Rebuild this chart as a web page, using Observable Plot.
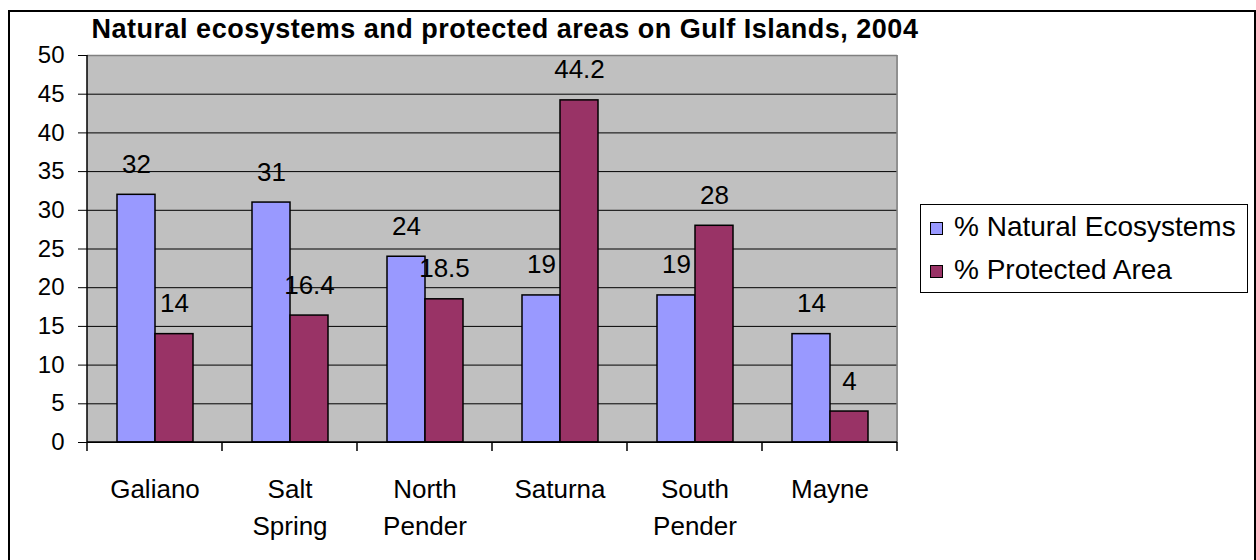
<!DOCTYPE html>
<html>
<head>
<meta charset="utf-8">
<script src="https://cdn.jsdelivr.net/npm/d3@7"></script>
<script src="https://cdn.jsdelivr.net/npm/@observablehq/plot@0.6"></script>
<style>
  body { margin: 0; background: #fff; font-family: "Liberation Sans", Arial, sans-serif; }
  #page { position: relative; width: 1256px; height: 560px; overflow: hidden; }
  #page svg { position: absolute; left: 0; top: 0; }
  #border { position: absolute; left: 8px; top: 10px; width: 1244px; height: 600px; border: 2px solid #000; }
  #title { position: absolute; left: 0; top: 16px; width: 1010px; text-align: center;
           font-weight: bold; font-size: 27px; line-height: 27px; letter-spacing: 0.5px; color: #000; }
  #legend { position: absolute; left: 920px; top: 204px; width: 326px; height: 87px;
            border: 1px solid #000; background: #fff; }
  #legend .swatch { position: absolute; left: 9px; width: 13px; height: 13px;
                    box-sizing: border-box; border: 1.5px solid #000; }
  #legend .label { position: absolute; left: 33px; font-size: 28px; line-height: 28px;
                   white-space: nowrap; color: #000; }
</style>
</head>
<body>
<div id="page">
  <div id="border"></div>
  <div id="title">Natural ecosystems and protected areas on Gulf Islands, 2004</div>
  <div id="legend"></div>
</div>
<script>
// Islands along the bottom axis (line breaks as printed under each group)
const islands = ["Galiano", "Salt Spring", "North Pender", "Saturna", "South Pender", "Mayne"];
const islandLabels = ["Galiano", "Salt\nSpring", "North\nPender", "Saturna", "South\nPender", "Mayne"];

// Percentages per island
const naturalEcosystems = [32, 31, 24, 19, 19, 14];
const protectedArea = [14, 16.4, 18.5, 44.2, 28, 4];

// Series names and fills
const seriesNames = ["% Natural Ecosystems", "% Protected Area"];
const seriesColors = ["#9999FF", "#993366"];

// Value axis ticks
const yTicks = [0, 5, 10, 15, 20, 25, 30, 35, 40, 45, 50];

const seriesValues = [naturalEcosystems, protectedArea];
const rows = islands.flatMap((island, i) =>
  seriesNames.map((series, s) => ({island, series, value: seriesValues[s][i]}))
);
const labelOf = new Map(islands.map((d, i) => [d, islandLabels[i]]));

const chart = Plot.plot({
  width: 1256,
  height: 560,
  marginLeft: 86,
  marginTop: 55,
  marginRight: 359,
  marginBottom: 118,
  style: {fontFamily: "'Liberation Sans', Arial, sans-serif", color: "#000", background: "transparent", overflow: "visible"},
  fx: {domain: islands, padding: 0, label: null},
  x: {domain: seriesNames, paddingInner: 0, paddingOuter: 0.75, axis: null},
  y: {domain: [0, 50], label: null},
  color: {domain: seriesNames, range: seriesColors},
  marks: [
    Plot.frame({fill: "#C0C0C0", stroke: "#C0C0C0"}),
    Plot.gridY(yTicks.filter(v => v < 50), {stroke: "#000", strokeOpacity: 1, strokeWidth: 1}),
    Plot.ruleY([50], {stroke: "#808080", strokeWidth: 1.5}),
    Plot.barY(rows, {fx: "island", x: "series", y: "value", fill: "series", stroke: "#000", strokeWidth: 1.5}),
    Plot.text(rows, {fx: "island", x: "series", y: "value", text: d => String(d.value),
                     lineAnchor: "bottom", dy: -22, fontSize: 26, fill: "#000"}),
    Plot.axisY(yTicks, {tickSize: 9, tickPadding: 14, fontSize: 24, stroke: "#000"}),
    Plot.axisFx({anchor: "bottom", tickSize: 0, tickPadding: 29, fontSize: 26, lineHeight: 1.42,
                 tickFormat: d => labelOf.get(d)})
  ]
});

// Plot-area edges: left axis line, right border and the category divider ticks,
// all placed through the chart's own fx and y scales.
const fx = chart.scale("fx");
const y = chart.scale("y");
const y0 = y.apply(0), yTop = y.apply(50);
const edges = islands.map(d => fx.apply(d)).concat([fx.apply(islands[islands.length - 1]) + fx.bandwidth]);
const xLeft = edges[0], xRight = edges[edges.length - 1];
const g = d3.select(chart).append("g");
g.append("line").attr("x1", xRight).attr("x2", xRight)
  .attr("y1", yTop).attr("y2", y0).attr("stroke", "#808080").attr("stroke-width", 1.5);
g.append("line").attr("x1", xLeft).attr("x2", xRight)
  .attr("y1", y0).attr("y2", y0).attr("stroke", "#000").attr("stroke-width", 1.5);
g.append("line").attr("x1", xLeft).attr("x2", xLeft)
  .attr("y1", yTop).attr("y2", y0).attr("stroke", "#000").attr("stroke-width", 1.5);
g.selectAll("line.divider").data(edges).join("line").attr("class", "divider")
  .attr("x1", d => d).attr("x2", d => d).attr("y1", y0).attr("y2", y0 + 9)
  .attr("stroke", "#000").attr("stroke-width", 1.5);

document.getElementById("page").appendChild(chart);

// Legend box
const legend = d3.select("#legend");
seriesNames.forEach((name, i) => {
  legend.append("div").attr("class", "swatch").style("top", `${17 + i * 43}px`).style("background", seriesColors[i]);
  legend.append("div").attr("class", "label").style("top", `${8 + i * 43}px`).text(name);
});
</script>
</body>
</html>
